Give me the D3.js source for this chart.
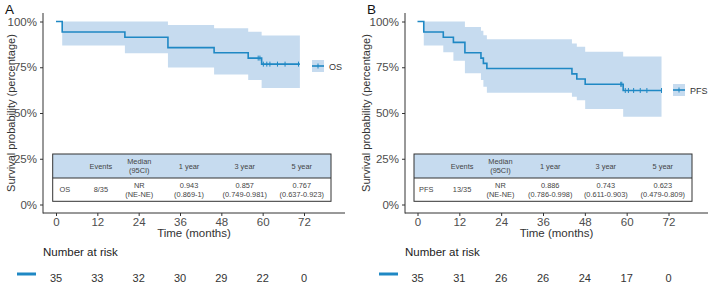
<!DOCTYPE html>
<html lang="en">
<head>
<meta charset="UTF-8">
<title>Kaplan-Meier OS / PFS</title>
<script src="https://d3js.org/d3.v7.min.js"></script>
<style>
  body { margin: 0; background: #fff; font-family: "Liberation Sans", Arial, sans-serif; }
  svg { display: block; }
  .tick text { fill: #4d4d4d; font-size: 11.5px; }
  .tick line { stroke: #333; }
  .tbl text { fill: #444; font-size: 7.4px; }
</style>
</head>
<body>
<svg id="chart" width="709" height="283"></svg>
<script>
// ---- data ----
var xTicks = [0, 12, 24, 36, 48, 60, 72];
var yTicks = [0, 0.25, 0.5, 0.75, 1];

var osTime  = [0, 1.8, 20.0, 32.5, 45.9, 55.8, 59.7];
var osSurv  = [1, 0.943, 0.914, 0.857, 0.829, 0.800, 0.767];
var osLower = [1, 0.869, 0.826, 0.749, 0.711, 0.680, 0.637];
var osUpper = [1, 1, 1, 0.981, 0.963, 0.944, 0.923];
var osEnd = 70.8;
var osCensor = [58.7, 59.2, 60.2, 61.2, 62.1, 64.3, 66.5, 70.4];
var osRisk = [35, 33, 32, 30, 29, 22, 0];
var osRow = ["OS", "8/35", "NR|(NE-NE)", "0.943|(0.869-1)", "0.857|(0.749-0.981)", "0.767|(0.637-0.923)"];

var pfsTime  = [0, 1.8, 7.4, 10.3, 13.6, 18.2, 18.9, 19.9, 44.3, 45.7, 48.1, 59.0];
var pfsSurv  = [1, 0.943, 0.914, 0.886, 0.829, 0.800, 0.771, 0.743, 0.714, 0.686, 0.657, 0.623];
var pfsLower = [1, 0.869, 0.832, 0.786, 0.717, 0.680, 0.644, 0.611, 0.589, 0.570, 0.522, 0.479];
var pfsUpper = [1, 1, 1, 1, 0.970, 0.950, 0.925, 0.903, 0.880, 0.862, 0.835, 0.809];
var pfsEnd = 70.0;
var pfsCensor = [58.3, 58.6, 59.6, 60.5, 62.0, 63.9, 65.8, 70.0];
var pfsRisk = [35, 31, 26, 26, 24, 17, 0];
var pfsRow = ["PFS", "13/35", "NR|(NE-NE)", "0.886|(0.786-0.998)", "0.743|(0.611-0.903)", "0.623|(0.479-0.809)"];

var tableHead = ["", "Events", "Median|(95CI)", "1 year", "3 year", "5 year"];
var colPos = [0.044, 0.173, 0.311, 0.49, 0.69, 0.895];

var lineCol = "#1f88c4", bandCol = "#c6dbef";

var svg = d3.select("#chart");

var panels = [
  {label: "A", name: "OS", time: osTime, surv: osSurv, lo: osLower, hi: osUpper, end: osEnd,
   censor: osCensor, risk: osRisk, row: osRow, ylabX: 11,
   axisX: 43, x0: 56, x1: 304, axisEnd: 345, tblX: 52.7, tblW: 278.3, legX: 312, legY: 66},
  {label: "B", name: "PFS", time: pfsTime, surv: pfsSurv, lo: pfsLower, hi: pfsUpper, end: pfsEnd,
   censor: pfsCensor, risk: pfsRisk, row: pfsRow, ylabX: 366,
   axisX: 405, x0: 417.5, x1: 668.5, axisEnd: 708, tblX: 414, tblW: 278, legX: 673, legY: 90}
];

var y = d3.scaleLinear().domain([0, 1]).range([204.5, 21.5]);

panels.forEach(function(p) {
  var x = d3.scaleLinear().domain([0, 72]).range([p.x0, p.x1]);
  var g = svg.append("g");

  // step points
  var steps = p.time.map(function(t, i) { return {t: t, s: p.surv[i], lo: p.lo[i], hi: p.hi[i]}; });
  var last = steps[steps.length - 1];
  steps.push({t: p.end, s: last.s, lo: last.lo, hi: last.hi});

  // confidence band
  var area = d3.area().curve(d3.curveStepAfter)
      .x(function(d) { return x(d.t); })
      .y0(function(d) { return y(d.lo); })
      .y1(function(d) { return y(d.hi); });
  g.append("path").datum(steps).attr("d", area).attr("fill", bandCol);

  // survival curve
  var line = d3.line().curve(d3.curveStepAfter)
      .x(function(d) { return x(d.t); })
      .y(function(d) { return y(d.s); });
  g.append("path").datum(steps).attr("d", line)
      .attr("fill", "none").attr("stroke", lineCol).attr("stroke-width", 1.6);

  // censor marks
  function survAt(t) {
    var v = p.surv[0];
    p.time.forEach(function(tt, i) { if (tt <= t) v = p.surv[i]; });
    return v;
  }
  g.selectAll(".cens").data(p.censor).enter().append("line")
      .attr("x1", function(d) { return x(d); }).attr("x2", function(d) { return x(d); })
      .attr("y1", function(d) { return y(survAt(d)) - 2.5; })
      .attr("y2", function(d) { return y(survAt(d)) + 2.5; })
      .attr("stroke", lineCol).attr("stroke-width", 1);

  // axes
  var yAxis = d3.axisLeft(y).tickValues(yTicks).tickSize(3).tickPadding(3)
      .tickFormat(function(d) { return Math.round(d * 100) + "%"; });
  var ya = g.append("g").attr("transform", "translate(" + p.axisX + ",0)").call(yAxis);
  ya.select(".domain").remove();
  g.append("line").attr("x1", p.axisX).attr("x2", p.axisX).attr("y1", 13).attr("y2", 213.5)
      .attr("stroke", "#333").attr("stroke-width", 1);

  var xAxis = d3.axisBottom(x).tickValues(xTicks).tickSize(3).tickPadding(2);
  var xa = g.append("g").attr("transform", "translate(0,213)").call(xAxis);
  xa.select(".domain").remove();
  g.append("line").attr("x1", p.axisX).attr("x2", p.axisEnd).attr("y1", 213).attr("y2", 213)
      .attr("stroke", "#333").attr("stroke-width", 1);

  g.append("text").attr("x", (p.axisX + p.axisEnd) / 2).attr("y", 237)
      .attr("text-anchor", "middle").attr("font-size", 11.5).attr("fill", "#333")
      .text("Time (months)");

  g.append("text")
      .attr("transform", "translate(" + (p.ylabX + 4) + ",113) rotate(-90)")
      .attr("text-anchor", "middle").attr("font-size", 11).attr("fill", "#333")
      .text("Survival probability (percentage)");

  g.append("text").attr("x", p.axisX - 38).attr("y", 14)
      .attr("font-size", 13.5).attr("fill", "#111").text(p.label);

  // legend
  var lg = g.append("g").attr("transform", "translate(" + p.legX + "," + p.legY + ")");
  lg.append("rect").attr("x", 0).attr("y", -6).attr("width", 12).attr("height", 12).attr("fill", bandCol);
  lg.append("line").attr("x1", 0).attr("x2", 12).attr("y1", 0).attr("y2", 0)
      .attr("stroke", lineCol).attr("stroke-width", 1.6);
  lg.append("line").attr("x1", 6).attr("x2", 6).attr("y1", -2.5).attr("y2", 2.5)
      .attr("stroke", lineCol).attr("stroke-width", 1);
  lg.append("text").attr("x", 17).attr("y", 3.5).attr("font-size", 9).attr("fill", "#333").text(p.name);

  // summary table
  var tb = g.append("g").attr("class", "tbl");
  var ty = 154, th = 24, tw = p.tblW, tH = 47.3;
  tb.append("rect").attr("x", p.tblX).attr("y", ty).attr("width", tw).attr("height", th).attr("fill", bandCol);
  tb.append("rect").attr("x", p.tblX).attr("y", ty).attr("width", tw).attr("height", tH)
      .attr("fill", "none").attr("stroke", "#333").attr("stroke-width", 1);
  tb.append("line").attr("x1", p.tblX).attr("x2", p.tblX + tw).attr("y1", ty + th).attr("y2", ty + th)
      .attr("stroke", "#333").attr("stroke-width", 1);

  function cell(txt, cx, cy) {
    var parts = txt.split("|");
    var t = tb.append("text").attr("text-anchor", "middle");
    parts.forEach(function(s, i) {
      t.append("tspan").attr("x", cx)
          .attr("y", cy + (i - (parts.length - 1) / 2) * 8.5 + 2.6).text(s);
    });
  }
  tableHead.forEach(function(s, i) { cell(s, p.tblX + colPos[i] * tw, ty + th / 2); });
  p.row.forEach(function(s, i) { cell(s, p.tblX + colPos[i] * tw, ty + th + (tH - th) / 2); });

  // number at risk
  g.append("text").attr("x", p.axisX).attr("y", 256).attr("font-size", 11.5).attr("fill", "#222")
      .text("Number at risk");
  g.append("line").attr("x1", p.axisX - 26).attr("x2", p.axisX - 7).attr("y1", 274).attr("y2", 274)
      .attr("stroke", lineCol).attr("stroke-width", 3);
  g.selectAll(".risk").data(p.risk).enter().append("text")
      .attr("x", function(d, i) { return x(xTicks[i]); }).attr("y", 282)
      .attr("text-anchor", "middle").attr("font-size", 11).attr("fill", "#333")
      .text(function(d) { return d; });
});
</script>
</body>
</html>
